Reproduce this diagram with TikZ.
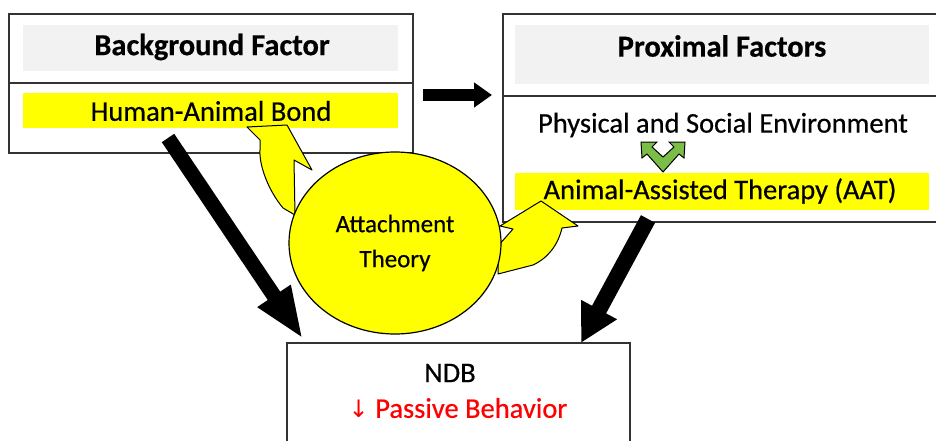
\documentclass[tikz,border=0pt]{standalone}
\usepackage{fontspec}
\setmainfont{Carlito}[FakeBold=0.5]
\newfontfamily\symfont{DejaVu Sans}
\usetikzlibrary{arrows.meta,shapes.geometric}
\definecolor{bandgrey}{RGB}{242,242,242}
\definecolor{hlyellow}{RGB}{255,255,0}
\definecolor{leafgreen}{RGB}{122,190,72}
\definecolor{ndbred}{RGB}{255,0,0}
\tikzset{
  framebox/.style={draw=black!80, line width=1.3pt, fill=none, inner sep=0pt},
  greyband/.style={fill=bandgrey, draw=none, inner sep=0pt},
  yellowband/.style={fill=hlyellow, draw=none, inner sep=0pt},
  titletext/.style={font=\fontsize{30.5}{36}\selectfont\bfseries, inner sep=0pt},
  bodytext/.style={font=\fontsize{28.5}{34}\selectfont, inner sep=0pt},
  blockarrow/.style={line width=#1, line cap=butt, draw=black},
  yellowshape/.style={fill=hlyellow, draw=black, line width=1pt, line join=round},
  greenshape/.style={fill=leafgreen, draw=black, line width=1pt, line join=miter},
}
\begin{document}
\begin{tikzpicture}[x=1pt,y=-1pt]
\useasboundingbox (0,0) rectangle (936,441);
\fill[white] (0,0) rectangle (936,441);

% ---- left box ----
\node[framebox, minimum width=404pt, minimum height=139pt] (lbox) at (211,83.5) {};
\draw[black!80, line width=1.3pt] (lbox.west |- 0,83) coordinate (ldivl) -- (lbox.east |- 0,83) coordinate (ldivr);
\node[greyband, minimum width=375pt, minimum height=46pt] (lgrey) at (210.5,48) {};
\node[yellowband, minimum width=375pt, minimum height=35pt] (lyellow) at (210.5,110.5) {};
\node[titletext] (bgtitle) at (212,47) {Background Factor};
\node[bodytext] (hab) at (211,111) {Human-Animal Bond};

% ---- right box ----
\node[framebox, minimum width=437pt, minimum height=208pt] (rbox) at (721.5,118) {};
\draw[black!80, line width=1.3pt] (rbox.west |- 0,96) coordinate (rdivl) -- (rbox.east |- 0,96) coordinate (rdivr);
\node[greyband, minimum width=414pt, minimum height=59pt] (rgrey) at (722,54.5) {};
\node[yellowband, minimum width=414pt, minimum height=37pt] (ryellow) at (722,191.5) {};
\node[titletext] (proxtitle) at (722,46) {Proximal Factors};
\node[bodytext] (phys) at (723,125) {Physical and Social Environment};
\node[bodytext] (aat) at (720,191) {Animal-Assisted Therapy (AAT)};

% ---- bottom box ----
\node[framebox, minimum width=343pt, minimum height=130pt] (ndbbox) at (458.5,408) {};
\node[bodytext] (ndb) at (450,373) {NDB};
\node[bodytext, text=ndbred] (passive) at (458,408) {{\symfont\fontsize{24}{30}\selectfont ↓} Passive Behavior};

% ---- green double arrow ----
\draw[greenshape] (663,172) -- (647,154) -- (642,158) -- (641,142) -- (657,142) -- (652,147)
  -- (663,157) -- (674,147) -- (669,142) -- (685,142) -- (684,158) -- (679,154) -- cycle;

% ---- yellow curved arrows ----
\draw[yellowshape] (247,127) -- (287,125) -- (312,170) -- (294,160) -- (295,215)
  -- (283,208) .. controls (268,190) and (259,165) .. (260,150) -- (260,140) -- cycle;
\draw[yellowshape] (500,226) -- (541,201) -- (578,226) -- (562,228)
  .. controls (558,245) and (548,258) .. (533,265) -- (498,274) -- (498,246) -- (513,229) -- cycle;

% ---- Attachment Theory ----
\node[ellipse, draw=black, line width=1.2pt, fill=hlyellow, minimum width=212pt, minimum height=182pt,
  align=center, font=\fontsize{25}{35}\selectfont, inner sep=0pt] (att) at (395,243) {Attachment\\Theory};

% ---- block arrows ----
\coordinate (a1s) at (168,138);
\coordinate (a1e) at (303,339);
\draw[blockarrow=15pt, -{Triangle[width=36pt, length=52pt]}] (a1s) -- (a1e);
\coordinate (a2s) at (648,219);
\coordinate (a2e) at (581,343);
\draw[blockarrow=16pt, -{Triangle[width=38pt, length=38pt]}] (a2s) -- (a2e);
\coordinate (a3s) at (423,95);
\coordinate (a3e) at (492,95);
\draw[blockarrow=12pt, -{Triangle[width=24pt, length=18pt]}] (a3s) -- (a3e);
\end{tikzpicture}
\end{document}
